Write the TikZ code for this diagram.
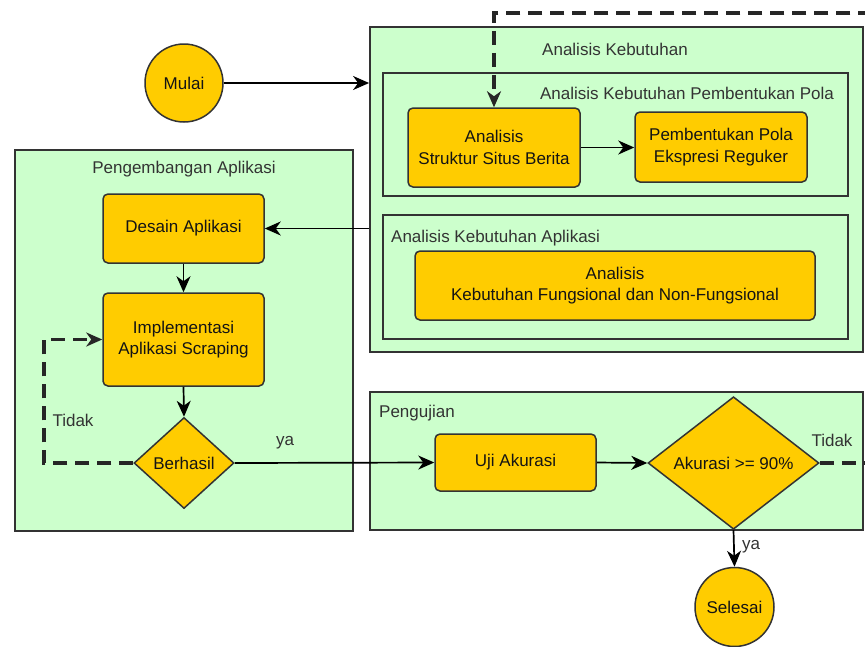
\documentclass[tikz,border=0pt]{standalone}
\usepackage{fontspec}
\setmainfont{Liberation Sans}
\usetikzlibrary{arrows.meta,shapes.geometric}
\definecolor{boxgreen}{HTML}{CCFFCC}
\definecolor{nodeor}{HTML}{FFCC00}
\definecolor{edgegray}{HTML}{333333}
\definecolor{txt}{HTML}{141414}
\tikzset{
  container/.style={draw=edgegray, fill=boxgreen, line width=1.8pt, inner sep=0pt},
  inner container/.style={draw=edgegray, fill=boxgreen, line width=1.6pt, inner sep=0pt},
  procbox/.style={draw=edgegray, fill=nodeor, line width=1.5pt, rounded corners=5pt, align=center, inner sep=0pt, text=txt},
  decision/.style={diamond, draw=edgegray, fill=nodeor, line width=1.5pt, inner sep=0pt, text=txt},
  terminal/.style={circle, draw=edgegray, fill=nodeor, line width=1.5pt, inner sep=0pt, text=txt},
  titletext/.style={text=edgegray, inner sep=0pt},
  flow/.style={draw=black, line width=1.7pt, -{Stealth[length=16pt, width=14pt, inset=5pt]}},
  dashflow/.style={draw=black!85, line width=3.4pt, dash pattern=on 14pt off 8pt, -{Stealth[length=16pt, width=14pt, inset=5pt]}},
}
\begin{document}
\begin{tikzpicture}[x=1pt, y=-1pt, font=\fontsize{17}{21.5}\selectfont]
\useasboundingbox (0,0) rectangle (865,646);
\fill[white] (0,0) rectangle (865,646);

% containers
\node[container, minimum width=493, minimum height=325] (ak) at (616.5,189.5) {};
\node[inner container, minimum width=465, minimum height=123] (akpola) at (615.5,134.5) {};
\node[inner container, minimum width=465, minimum height=124] (akapp) at (615.5,277) {};
\node[container, minimum width=338, minimum height=381] (dev) at (184,340.5) {};
\node[container, minimum width=493, minimum height=138] (test) at (616.5,461) {};

% container titles
\node[titletext] (tak) at (615,49) {Analisis Kebutuhan};
\node[titletext] (tpola) at (687,93) {Analisis Kebutuhan Pembentukan Pola};
\node[titletext, anchor=west] (tapp) at (391,238) {Analisis Kebutuhan Aplikasi};
\node[titletext] (tdev) at (184,169) {Pengembangan Aplikasi};
\node[titletext, anchor=west] (ttest) at (379,413) {Pengujian};

% nodes
\node[terminal, minimum size=78] (mulai) at (184,83) {Mulai};
\node[procbox, minimum width=172, minimum height=79] (analisis) at (494,147.5) {Analisis\\Struktur Situs Berita};
\node[procbox, minimum width=172, minimum height=70] (pola) at (721,147) {Pembentukan Pola\\Ekspresi Reguker};
\node[procbox, minimum width=400, minimum height=69] (fung) at (615,285.5) {Analisis\\Kebutuhan Fungsional dan Non-Fungsional};
\node[procbox, minimum width=161, minimum height=69] (desain) at (183.5,228.5) {Desain Aplikasi};
\node[procbox, minimum width=161, minimum height=93] (impl) at (183.5,339.5) {Implementasi\\Aplikasi Scraping};
\node[decision, minimum width=100, minimum height=91] (berhasil) at (184,463) {Berhasil};
\node[procbox, minimum width=161, minimum height=57] (uji) at (515.5,462.5) {Uji Akurasi};
\node[decision, minimum width=171, minimum height=122] (akurasi) at (733.5,463) {Akurasi >= 90\%};
\node[terminal, minimum size=79] (selesai) at (734.5,607) {Selesai};

% edge labels
\node[titletext] (ltidak1) at (73,420) {Tidak};
\node[titletext] (lya1) at (285,443) {ya};
\node[titletext] (ltidak2) at (832,440) {Tidak};
\node[titletext] (lya2) at (751,547) {ya};

% coordinates
\coordinate (loopL) at (44,339.5);
\coordinate (topL) at (494,13);
\coordinate (farR) at (885,13);

% solid connectors
\draw[flow] (mulai.east) -- (ak.west |- mulai.east);
\draw[flow] (analisis.east) -- (pola.west |- analisis.east);
\draw[flow] (ak.west |- desain.east) -- (desain.east);
\draw[flow] (desain.south) -- (impl.north);
\draw[flow] (impl.south) -- (berhasil.north);
\draw[flow] (berhasil.east) -- (uji.west);
\draw[flow] (uji.east) -- (akurasi.west);
\draw[flow] (akurasi.south) -- (selesai.north);

% dashed connectors
\draw[dashflow] (berhasil.west) -| (loopL) -- (impl.west);
\begin{scope}
\clip (0,0) rectangle (865,646);
\draw[dashflow] (akurasi.east) -| (farR) -- (topL) -- (analisis.north);
\end{scope}
\end{tikzpicture}
\end{document}
